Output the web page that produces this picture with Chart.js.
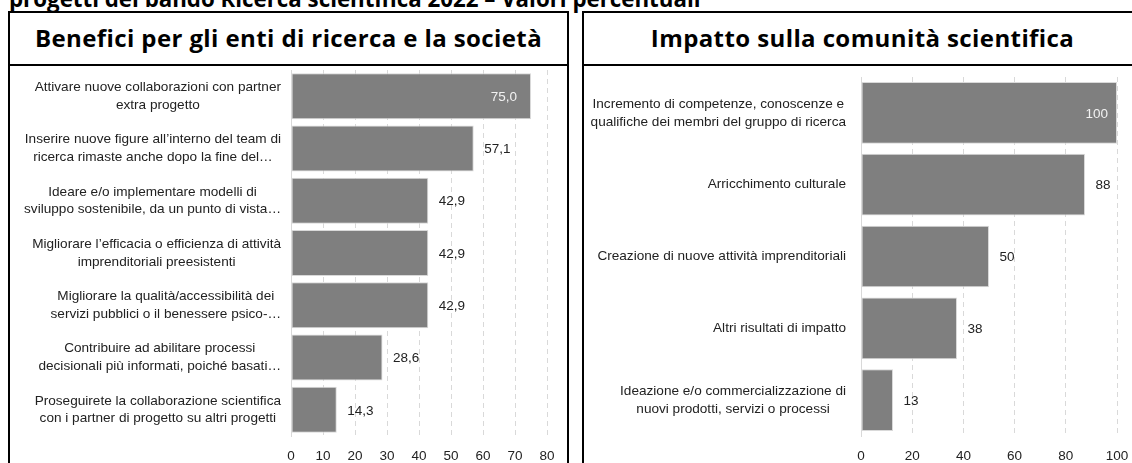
<!DOCTYPE html>
<html lang="it">
  <head>
    <meta charset="UTF-8" />
    <title>Benefici e impatto - Ricerca scientifica 2022</title>
    <script src="https://cdn.jsdelivr.net/npm/chart.js"></script>
    <style>
      body {
        margin: 0;
        width: 1132px;
        height: 463px;
        overflow: hidden;
        background: #fff;
        position: relative;
        font-family: "Liberation Sans", Arial, sans-serif;
      }
      .top-title {
        position: absolute;
        left: 9px;
        top: -13.5px;
        font: bold 22.3px "Open Sans", sans-serif;
        line-height: 23px;
        white-space: nowrap;
        color: #000;
      }
      .panel {
        position: absolute;
        top: 11px;
        height: 480px;
        width: 561px;
        border: 2px solid #000;
        box-sizing: border-box;
      }
      .panel .head {
        height: 51px;
        border-bottom: 2px solid #000;
        text-align: center;
        font: bold 24px "Open Sans", sans-serif;
        line-height: 49px;
        letter-spacing: 0.4px;
        color: #000;
        white-space: nowrap;
      }
      canvas {
        position: absolute;
      }
    </style>
  </head>
  <body>
    <div class="top-title">progetti del bando Ricerca scientifica 2022 – Valori percentuali</div>

    <div class="panel" style="left: 8px">
      <div class="head">Benefici per gli enti di ricerca e la società</div>
    </div>
    <div class="panel" style="left: 582px">
      <div class="head">Impatto sulla comunità scientifica</div>
    </div>

    <canvas id="chartBenefici" width="557" height="396" style="left: 10px; top: 67px"></canvas>
    <canvas id="chartImpatto" width="548" height="396" style="left: 584px; top: 67px"></canvas>

    <script>
      // --- dati (valori percentuali) ---
      const beneficiLabels = [
        ["Attivare nuove collaborazioni con partner", "extra progetto"],
        ["Inserire nuove figure all’interno del team di", "ricerca rimaste anche dopo la fine del…"],
        ["Ideare e/o implementare modelli di", "sviluppo sostenibile, da un punto di vista…"],
        ["Migliorare l’efficacia o efficienza di attività", "imprenditoriali preesistenti"],
        ["Migliorare la qualità/accessibilità dei", "servizi pubblici o il benessere psico-…"],
        ["Contribuire ad abilitare processi", "decisionali più informati, poiché basati…"],
        ["Proseguirete la collaborazione scientifica", "con i partner di progetto su altri progetti"],
      ];
      const beneficiValues = [75.0, 57.1, 42.9, 42.9, 42.9, 28.6, 14.3];
      const beneficiTicks = [0, 10, 20, 30, 40, 50, 60, 70, 80];

      const impattoLabels = [
        ["Incremento di competenze, conoscenze e", "qualifiche dei membri del gruppo di ricerca"],
        "Arricchimento culturale",
        "Creazione di nuove attività imprenditoriali",
        "Altri risultati di impatto",
        ["Ideazione e/o commercializzazione di", "nuovi prodotti, servizi o processi"],
      ];
      const impattoValues = [100, 87.5, 50, 37.5, 12.5];
      const impattoTicks = [0, 20, 40, 60, 80, 100];

      const BAR_COLOR = "#7f7f7f";
      const GRID_COLOR = "#d9d9d9";
      const TEXT_COLOR = "#222";
      const NUM_FONT = { family: "'Liberation Sans', Arial, sans-serif", size: 13.5 };

      // etichette categorie: blocco allineato a destra, righe centrate (come Excel)
      function categoryLabelsPlugin(gap) {
        return {
          id: "categoryLabels",
          afterDraw(chart) {
            const ctx = chart.ctx;
            const yScale = chart.scales.y;
            const right = chart.chartArea.left - gap;
            const lineH = 17.7;
            ctx.save();
            ctx.font = "13.6px 'Liberation Sans', Arial, sans-serif";
            ctx.fillStyle = TEXT_COLOR;
            ctx.textAlign = "center";
            ctx.textBaseline = "middle";
            chart.data.labels.forEach((lab, i) => {
              const lines = Array.isArray(lab) ? lab : [lab];
              const w = Math.max(...lines.map((l) => ctx.measureText(l).width));
              const cx = right - w / 2;
              const cy = yScale.getPixelForTick(i);
              lines.forEach((l, j) => {
                ctx.fillText(l, cx, cy + (j - (lines.length - 1) / 2) * lineH);
              });
            });
            ctx.restore();
          },
        };
      }

      // etichette valori: fuori dalla barra, dentro se non c'è spazio
      function valueLabelsPlugin(fmt, inPad) {
        return {
          id: "valueLabels",
          afterDatasetsDraw(chart) {
            const ctx = chart.ctx;
            const meta = chart.getDatasetMeta(0);
            const values = chart.data.datasets[0].data;
            ctx.save();
            ctx.font = NUM_FONT.size + "px " + NUM_FONT.family;
            ctx.textBaseline = "middle";
            meta.data.forEach((bar, i) => {
              const txt = fmt(values[i]);
              const w = ctx.measureText(txt).width;
              if (bar.x + 10.5 + w > chart.chartArea.right) {
                ctx.textAlign = "right";
                ctx.fillStyle = "#f2f2f2";
                ctx.fillText(txt, bar.x - inPad, bar.y + 1);
              } else {
                ctx.textAlign = "left";
                ctx.fillStyle = TEXT_COLOR;
                ctx.fillText(txt, bar.x + 10.5, bar.y + 1);
              }
            });
            ctx.restore();
          },
        };
      }

      function makeChart(id, labels, values, ticks, opts) {
        const max = ticks[ticks.length - 1];
        return new Chart(document.getElementById(id), {
          type: "bar",
          data: {
            labels: labels,
            datasets: [
              {
                data: values,
                backgroundColor: BAR_COLOR,
                borderColor: GRID_COLOR,
                borderWidth: 1,
                borderSkipped: false,
                categoryPercentage: 1,
                barPercentage: opts.barPct,
              },
            ],
          },
          options: {
            indexAxis: "y",
            responsive: false,
            animation: false,
            devicePixelRatio: 1,
            layout: { padding: { top: opts.padTop, right: opts.padRight, left: 0, bottom: 0 } },
            plugins: { legend: { display: false }, tooltip: { enabled: false } },
            scales: {
              x: {
                min: 0,
                max: max,
                afterBuildTicks: (s) => {
                  s.ticks = ticks.map((v) => ({ value: v }));
                },
                afterFit: (s) => {
                  s.height = 27;
                  s.paddingLeft = 0;
                  s.paddingRight = 0;
                },
                ticks: { color: TEXT_COLOR, font: NUM_FONT, padding: 12, maxRotation: 0 },
                grid: { color: GRID_COLOR, drawTicks: false, lineWidth: 1 },
                border: { display: false, dash: [5, 4] },
              },
              y: {
                afterFit: (s) => {
                  s.width = opts.yWidth;
                },
                ticks: { display: false },
                grid: { display: false },
                border: { display: true, color: GRID_COLOR, width: 1 },
              },
            },
          },
          plugins: [categoryLabelsPlugin(opts.labelGap), valueLabelsPlugin(opts.fmt, opts.inPad)],
        });
      }

      makeChart("chartBenefici", beneficiLabels, beneficiValues, beneficiTicks, {
        barPct: 0.88,
        padTop: 3,
        padRight: 20,
        yWidth: 281,
        labelGap: 10,
        inPad: 14,
        fmt: (v) => v.toFixed(1).replace(".", ","),
      });

      makeChart("chartImpatto", impattoLabels, impattoValues, impattoTicks, {
        barPct: 0.86,
        padTop: 10,
        padRight: 15,
        yWidth: 277,
        labelGap: 15,
        inPad: 9,
        fmt: (v) => String(Math.round(v)),
      });
    </script>
  </body>
</html>
